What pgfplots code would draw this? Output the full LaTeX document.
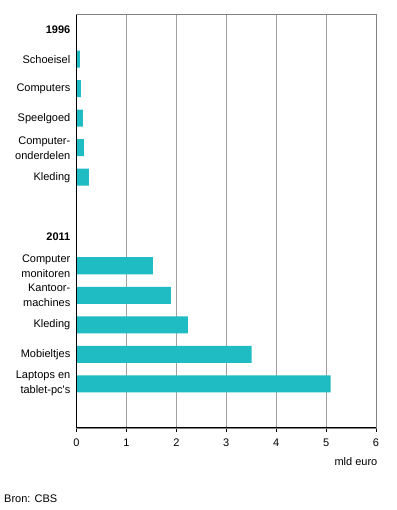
\documentclass[border=0pt]{standalone}
\usepackage{fontspec}
\setmainfont{Liberation Sans}
\usepackage{pgfplots}
\pgfplotsset{compat=1.18}
\usetikzlibrary{calc}
\definecolor{barteal}{RGB}{32,188,196}
\definecolor{gridgray}{RGB}{160,160,160}
\definecolor{framegray}{RGB}{128,128,128}
\begin{document}
\begin{tikzpicture}[x=1bp,y=1bp]
\useasboundingbox (-76.5,-82) rectangle (319.5,428);
\begin{axis}[
  at={(0,0)}, anchor=south west,
  scale only axis,
  width=299.5bp, height=413bp,
  xmin=0, xmax=6,
  ymin=-0.5, ymax=13.5,
  y dir=reverse,
  xbar,
  bar width=17bp,
  xtick={0,1,2,3,4,5,6},
  ytick={0,1,2,3,4,5,7,8,9,10,11,12},
  yticklabels={{\textbf{1996}}, Schoeisel, Computers, Speelgoed, {Computer-\\onderdelen}, Kleding, {\textbf{2011}}, {Computer\\monitoren}, {Kantoor-\\machines}, Kleding, Mobieltjes, {Laptops en\\tablet-pc\textquotesingle s}},
  xmajorgrids,
  major grid style={draw=gridgray, line width=1bp},
  axis line style={draw=framegray, line width=1bp},
  xtick pos=bottom,
  ytick pos=left,
  tick align=outside,
  major tick length=4bp,
  x tick style={draw=black, line width=1bp},
  ytick style={draw=none},
  /pgf/number format/assume math mode=true,
  xticklabel style={font=\fontsize{11bp}{13bp}\selectfont, anchor=center, inner sep=0pt, yshift=-11bp},
  yticklabel style={font=\fontsize{11bp}{15bp}\selectfont, align=right, anchor=east, inner sep=0pt, xshift=-2bp},
]
\addplot[fill=barteal, draw=none] coordinates {
  (0.07,1) (0.09,2) (0.13,3) (0.15,4) (0.25,5)
  (1.53,8) (1.89,9) (2.23,10) (3.51,11) (5.09,12)
};
\end{axis}
\draw[black, line width=1bp] (current axis.north west) -- (current axis.south west) -- (current axis.south east);
\node[anchor=east, inner sep=0pt, font=\fontsize{11bp}{13bp}\selectfont] at ($(current axis.south east)+(1.5,-34)$) {mld euro};
\node[anchor=west, inner sep=0pt, font=\fontsize{11bp}{13bp}\selectfont] at ($(current axis.south west)+(-72.5,-71)$) {Bron: CBS};
\end{tikzpicture}
\end{document}
